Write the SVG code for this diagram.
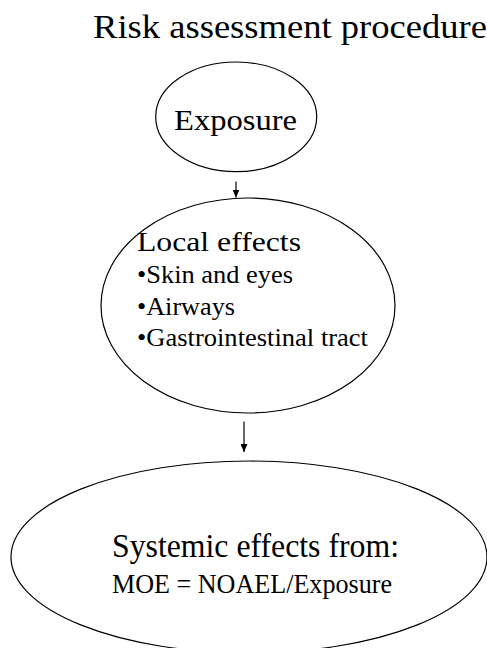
<svg xmlns="http://www.w3.org/2000/svg" width="487" height="648" viewBox="0 0 487 648">
<style>
.shape{fill:#fff;stroke:#000;stroke-width:1.2}
.t{font-family:"Liberation Serif","Times New Roman",serif;fill:#000}
.conn{stroke:#000;stroke-width:1.2;fill:none}
</style>
<defs>
<marker id="arr" viewBox="0 0 8 7" refX="8" refY="3.5" markerWidth="8" markerHeight="7" markerUnits="userSpaceOnUse" orient="auto">
<path d="M0,0 L8,3.5 L0,7 Z" fill="#000"/>
</marker>
</defs>
<rect width="487" height="648" fill="#fff"/>
<text class="t" x="93" y="38" font-size="34" textLength="394" lengthAdjust="spacingAndGlyphs">Risk assessment procedure</text>
<g id="exposure">
<ellipse class="shape" cx="236.2" cy="116.8" rx="80.5" ry="54.8"/>
<text class="t" x="174" y="130" font-size="30" textLength="123" lengthAdjust="spacingAndGlyphs">Exposure</text>
</g>
<g id="local">
<ellipse class="shape" cx="248" cy="305.5" rx="147" ry="107.5"/>
<text class="t" x="137" y="251" font-size="28" textLength="164" lengthAdjust="spacingAndGlyphs">Local effects</text>
<text class="t" x="137" y="283" font-size="25" textLength="156" lengthAdjust="spacingAndGlyphs">•Skin and eyes</text>
<text class="t" x="137" y="314.5" font-size="25" textLength="98" lengthAdjust="spacingAndGlyphs">•Airways</text>
<text class="t" x="137" y="345.5" font-size="25" textLength="231" lengthAdjust="spacingAndGlyphs">•Gastrointestinal tract</text>
</g>
<g id="systemic">
<ellipse class="shape" cx="249" cy="557" rx="238" ry="96"/>
<text class="t" x="112" y="557" font-size="33" textLength="287" lengthAdjust="spacingAndGlyphs">Systemic effects from:</text>
<text class="t" x="112" y="593" font-size="28" textLength="280" lengthAdjust="spacingAndGlyphs">MOE = NOAEL/Exposure</text>
</g>
<g id="connectors">
<line class="conn" x1="236" y1="181.5" x2="236" y2="197.5" marker-end="url(#arr)"/>
<line class="conn" x1="244" y1="421.5" x2="244" y2="452" marker-end="url(#arr)"/>
</g>
</svg>
